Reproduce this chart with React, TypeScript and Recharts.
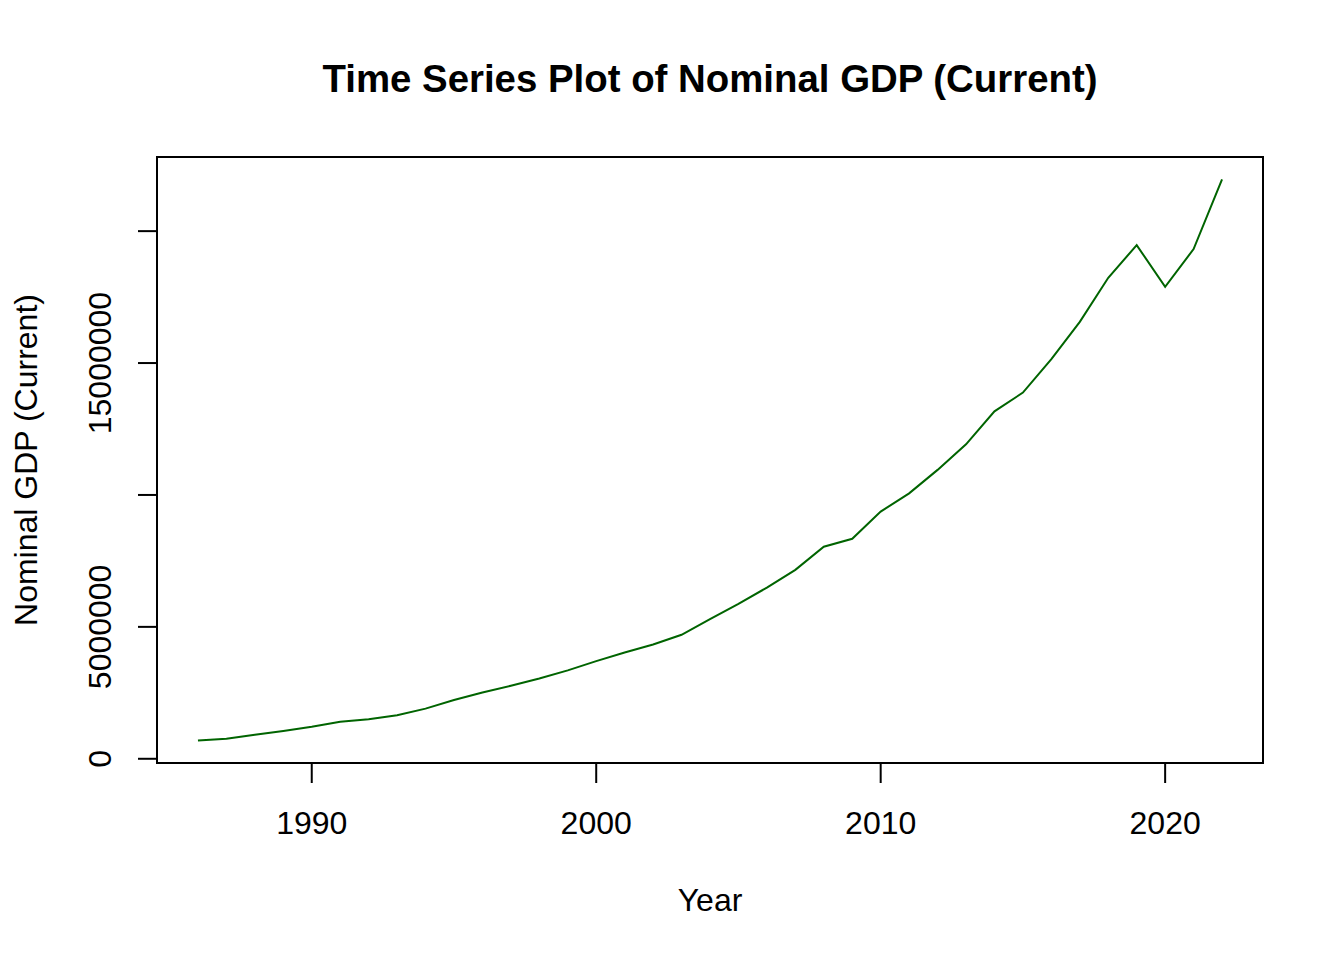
import { LineChart, Line, XAxis, YAxis, ReferenceArea } from "recharts";

const years = [
  1986, 1987, 1988, 1989, 1990, 1991, 1992, 1993, 1994, 1995, 1996, 1997,
  1998, 1999, 2000, 2001, 2002, 2003, 2004, 2005, 2006, 2007, 2008, 2009,
  2010, 2011, 2012, 2013, 2014, 2015, 2016, 2017, 2018, 2019, 2020, 2021,
  2022,
];

// nominal GDP (current)
const gdp = [
  690000, 760000, 910000, 1050000, 1210000, 1400000, 1500000, 1650000,
  1900000, 2230000, 2510000, 2770000, 3040000, 3350000, 3700000, 4030000,
  4330000, 4700000, 5290000, 5870000, 6490000, 7160000, 8040000, 8340000,
  9370000, 10060000, 10950000, 11920000, 13170000, 13880000, 15150000,
  16560000, 18230000, 19470000, 17890000, 19320000, 21960000,
];

const xTicks = [1990, 2000, 2010, 2020];
const yTicks = [0, 5000000, 10000000, 15000000, 20000000];
// R drops the labels that would overlap
const yLabels = ["0", "5000000", "", "15000000", ""];

const data = years.map((year, i) => ({ year, gdp: gdp[i] }));

const X_DOMAIN: [number, number] = [1984.56, 2023.44];
const Y_DOMAIN: [number, number] = [-160000, 22810000];

const FONT = "'Liberation Sans', Arial, sans-serif";

function XTick(props: any) {
  const { x, payload } = props;
  return (
    <text
      x={x}
      y={834}
      textAnchor="middle"
      fontFamily={FONT}
      fontSize={32}
      fill="#000"
    >
      {payload.value}
    </text>
  );
}

function YTick(props: any) {
  const { y, payload } = props;
  const idx = yTicks.indexOf(payload.value);
  const label = idx >= 0 ? yLabels[idx] : "";
  if (!label) return <g />;
  return (
    <text
      x={111}
      y={y}
      transform={`rotate(-90, 111, ${y})`}
      textAnchor="middle"
      fontFamily={FONT}
      fontSize={32}
      fill="#000"
    >
      {label}
    </text>
  );
}

export default function App() {
  return (
    <div style={{ position: "absolute", left: 0, top: 0, background: "#fff" }}>
      <LineChart
        width={1344}
        height={960}
        data={data}
        margin={{ top: 157, right: 81, left: 0, bottom: 0 }}
      >
        <XAxis
          dataKey="year"
          type="number"
          domain={X_DOMAIN}
          ticks={xTicks}
          allowDataOverflow
          axisLine={false}
          tickLine={{ stroke: "#000", strokeWidth: 2 }}
          tickSize={20}
          height={197}
          interval={0}
          tick={<XTick />}
        />
        <YAxis
          type="number"
          domain={Y_DOMAIN}
          ticks={yTicks}
          allowDataOverflow
          axisLine={false}
          tickLine={{ stroke: "#000", strokeWidth: 2 }}
          tickSize={19}
          width={157}
          interval={0}
          tick={<YTick />}
        />
        <ReferenceArea
          x1={X_DOMAIN[0]}
          x2={X_DOMAIN[1]}
          y1={Y_DOMAIN[0]}
          y2={Y_DOMAIN[1]}
          fill="none"
          stroke="#000"
          strokeWidth={2}
          fillOpacity={0}
          ifOverflow="visible"
        />
        <Line
          type="linear"
          dataKey="gdp"
          stroke="#006400"
          strokeWidth={2}
          dot={false}
          activeDot={false}
          isAnimationActive={false}
        />
        <text
          x={710}
          y={92}
          textAnchor="middle"
          fontFamily={FONT}
          fontWeight="bold"
          fontSize={38.4}
          fill="#000"
        >
          Time Series Plot of Nominal GDP (Current)
        </text>
        <text
          x={710}
          y={911}
          textAnchor="middle"
          fontFamily={FONT}
          fontSize={32}
          fill="#000"
        >
          Year
        </text>
        <text
          x={37}
          y={460}
          transform="rotate(-90, 37, 460)"
          textAnchor="middle"
          fontFamily={FONT}
          fontSize={32}
          fill="#000"
        >
          Nominal GDP (Current)
        </text>
      </LineChart>
    </div>
  );
}
